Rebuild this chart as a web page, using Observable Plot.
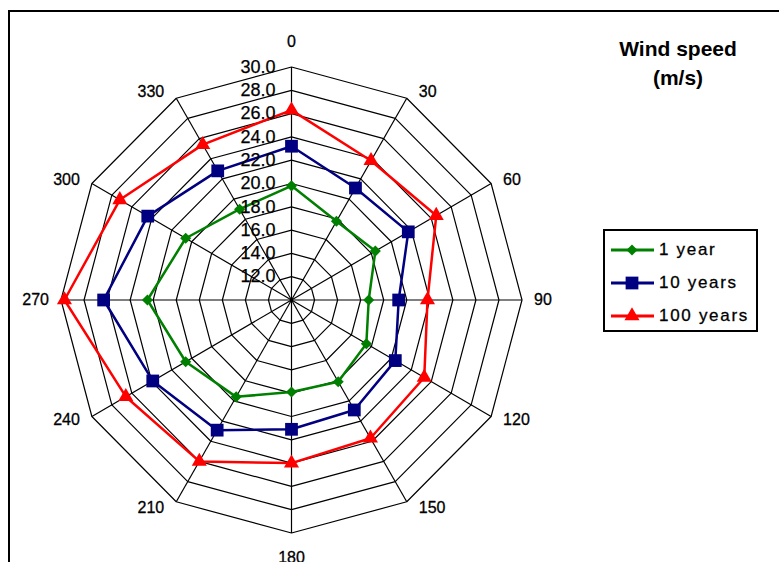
<!DOCTYPE html>
<html><head><meta charset="utf-8">
<script src="https://cdn.jsdelivr.net/npm/d3@7"></script>
<script src="https://cdn.jsdelivr.net/npm/@observablehq/plot@0.6"></script>
<style>
html,body{margin:0;padding:0;background:#fff;}
#wrap{position:relative;width:779px;height:562px;overflow:hidden;font-family:"Liberation Sans",Arial,sans-serif;color:#000;}
#frame{position:absolute;left:8px;top:10px;width:900px;height:700px;border:2px solid #000;box-sizing:border-box;}
#chart{position:absolute;left:0;top:0;}
#title{position:absolute;left:598px;width:160px;top:34px;text-align:center;font-weight:bold;font-size:21px;line-height:29px;}
#legend{position:absolute;left:603px;top:229px;width:155px;height:103px;border:2px solid #000;box-sizing:border-box;background:#fff;}
.lrow{position:absolute;left:0;height:24px;width:151px;}
.lrow svg{position:absolute;left:0;top:0;}
.lrow span{position:absolute;left:54px;top:0;line-height:24px;font-size:17px;letter-spacing:1.7px;white-space:nowrap;-webkit-text-stroke:0.3px #000;}
</style></head><body>
<div id="wrap"><div id="frame"></div><div id="chart"></div><div id="title">Wind speed<br>(m/s)</div><div id="legend"></div></div>
<script>
// ---- data ----
const angles = [0, 30, 60, 90, 120, 150, 180, 210, 240, 270, 300, 330];
const angleLabels = ["0", "30", "60", "90", "120", "150", "180", "210", "240", "270", "300", "330"];
const ringValues = [12, 14, 16, 18, 20, 22, 24, 26, 28, 30];
const ringLabels = ["12.0", "14.0", "16.0", "18.0", "20.0", "22.0", "24.0", "26.0", "28.0", "30.0"];
const seriesNames = ["1 year", "10 years", "100 years"];
const seriesColors = ["#008000", "#000080", "#ff0000"];
const seriesSymbols = ["diamond2", "square", "triangle"];
const oneYear = [19.8, 17.8, 18.4, 16.7, 17.5, 18.1, 17.9, 19.6, 20.6, 22.5, 20.6, 19.0];
const tenYears = [23.2, 21.1, 21.7, 19.3, 20.4, 20.9, 21.1, 22.9, 23.9, 26.3, 24.4, 22.8];
const hundredYears = [26.3, 23.8, 24.5, 21.8, 23.3, 23.7, 24.0, 26.0, 26.6, 29.7, 27.2, 25.4];
const seriesValues = [oneYear, tenYears, hundredYears];
const rMin = 10, rMax = 30;

// ---- polar helpers (data units) ----
const rad = a => a * Math.PI / 180;
const px = (a, v) => (v - rMin) * Math.sin(rad(a));
const py = (a, v) => (v - rMin) * Math.cos(rad(a));

const span = rMax - rMin;
const xRange = [60.5, 521.5], yRange = [532.5, 66.5];
const kx = (xRange[1] - xRange[0]) / (2 * span);
const ky = (yRange[0] - yRange[1]) / (2 * span);

const ringPts = ringValues.flatMap(v => angles.map(a => ({ring: v, a})));
const seriesPts = seriesNames.map((s, k) => angles.map((a, i) => ({series: s, a, v: seriesValues[k][i]})));
const markerR = {"diamond2": 5, "square": 7.2, "triangle": 5.6};

// category labels placed just outside the outer ring
const side = a => { const s = Math.sin(rad(a)); return s > 0.01 ? 1 : s < -0.01 ? -1 : 0; };
const labelX = a => px(a, rMax) + side(a) * 12 / kx;
const labelY = a => py(a, rMax) + (side(a) === 0 ? Math.sign(Math.cos(rad(a))) * 25 : 7 * Math.cos(rad(a))) / ky;
const labelText = a => angleLabels[angles.indexOf(a)];
const labelOpts = {x: labelX, y: labelY, text: labelText, fontSize: 16, fill: "#000", stroke: "#000", strokeWidth: 0.3, ariaLabel: "angle-labels"};

const chart = Plot.plot({
  width: 779, height: 562, margin: 0,
  x: {domain: [-span, span], range: xRange, axis: null},
  y: {domain: [-span, span], range: yRange, axis: null},
  style: {fontFamily: '"Liberation Sans", Arial, sans-serif', background: "transparent", overflow: "visible"},
  marks: [
    Plot.line(ringPts, {x: d => px(d.a, d.ring), y: d => py(d.a, d.ring), z: "ring", curve: "linear-closed", stroke: "#000", strokeWidth: 1.2}),
    Plot.link(angles, {x1: a => px(a, rMin), y1: a => py(a, rMin), x2: a => px(a, rMax), y2: a => py(a, rMax), stroke: "#000", strokeWidth: 1.2}),
    ...seriesPts.map((pts, k) => Plot.line(pts, {x: d => px(d.a, d.v), y: d => py(d.a, d.v), curve: "linear-closed", stroke: seriesColors[k], strokeWidth: 2.5})),
    ...seriesPts.map((pts, k) => Plot.dot(pts, {x: d => px(d.a, d.v), y: d => py(d.a, d.v), symbol: seriesSymbols[k], r: markerR[seriesSymbols[k]], fill: seriesColors[k], stroke: "none"})),
    Plot.text(angles, {...labelOpts, filter: a => side(a) > 0, textAnchor: "start"}),
    Plot.text(angles, {...labelOpts, filter: a => side(a) < 0, textAnchor: "end"}),
    Plot.text(angles, {...labelOpts, filter: a => side(a) === 0, textAnchor: "middle"}),
    Plot.text(ringValues, {x: 0, y: v => v - rMin, text: (v, i) => ringLabels[i], fontSize: 18, fill: "#000", stroke: "#000", strokeWidth: 0.25, textAnchor: "end", dx: -16, ariaLabel: "ring-labels"})
  ]
});
d3.select(chart).selectAll('g[aria-label="angle-labels"] text').style("letter-spacing", "1.8px");
d3.select(chart).selectAll('g[aria-label="ring-labels"] text').style("letter-spacing", "0.6px");
document.getElementById("chart").appendChild(chart);

// ---- legend ----
const legend = d3.select("#legend");
const rowTops = [7, 40, 73];
const symMap = {"diamond2": d3.symbolDiamond2, "square": d3.symbolSquare, "triangle": d3.symbolTriangle};
seriesNames.forEach((name, k) => {
  const row = legend.append("div").attr("class", "lrow").style("top", rowTops[k] + "px");
  const svg = row.append("svg").attr("width", 54).attr("height", 24);
  svg.append("line").attr("x1", 6).attr("x2", 49).attr("y1", 12).attr("y2", 12).attr("stroke", seriesColors[k]).attr("stroke-width", 3);
  const r = markerR[seriesSymbols[k]];
  svg.append("path").attr("transform", "translate(27,12)").attr("d", d3.symbol(symMap[seriesSymbols[k]], Math.PI * r * r)()).attr("fill", seriesColors[k]);
  row.append("span").text(name);
});
</script>
</body></html>
